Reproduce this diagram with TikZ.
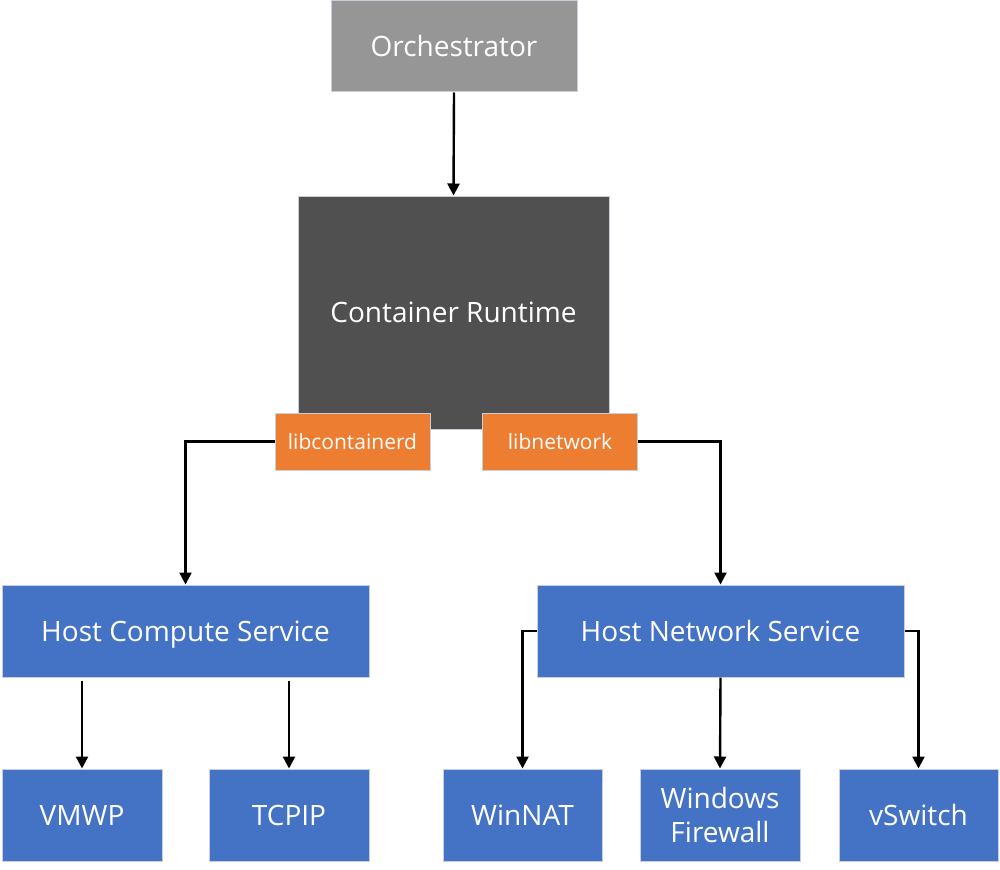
\documentclass[tikz,border=0pt]{standalone}
\usepackage{fontspec}
\setmainfont{Open Sans}
\usetikzlibrary{arrows.meta,calc}
\definecolor{cblue}{HTML}{4472C4}
\definecolor{corange}{HTML}{ED7D31}
\definecolor{cgray}{HTML}{969696}
\definecolor{cdark}{HTML}{505050}
\definecolor{cedge}{HTML}{C8CEDA}
\tikzset{
  box/.style={draw=cedge, line width=1pt, inner sep=0pt, align=center, text=white, font=\fontsize{28}{34}\selectfont, text height=20pt, text depth=0pt},
  bluebox/.style={box, fill=cblue},
  libbox/.style={box, fill=corange, font=\fontsize{21}{25}\selectfont, text height=15pt, minimum width=155pt, minimum height=57pt},
  conn/.style={line width=2.4pt, -{Triangle[length=12pt,width=12pt]}},
}
\begin{document}
\begin{tikzpicture}[x=1pt,y=-1pt]
\useasboundingbox (0,0) rectangle (1000,869);
\node[box, fill=cgray, minimum width=246pt, minimum height=91pt] (orch) at (454,46.5) {Orchestrator};
\node[box, fill=cdark, minimum width=311pt, minimum height=233pt] (cr) at (453.5,312.5) {Container Runtime};
\node[libbox] (lcd) at (352.5,441.5) {libcontainerd};
\node[libbox] (lnw) at (560,441.5) {libnetwork};
\node[bluebox, minimum width=367pt, minimum height=92pt] (hcs) at (185.5,631) {Host Compute Service};
\node[bluebox, minimum width=367pt, minimum height=92pt] (hns) at (720.5,631) {Host Network Service};
\node[bluebox, minimum width=160pt, minimum height=92pt] (vmwp) at (82,815) {VMWP};
\node[bluebox, minimum width=160pt, minimum height=92pt] (tcpip) at (289,815) {TCPIP};
\node[bluebox, minimum width=159pt, minimum height=92pt] (winnat) at (522.5,815) {WinNAT};
\node[bluebox, minimum width=160pt, minimum height=92pt, text height=, text depth=, font=\fontsize{28}{34}\selectfont] (fw) at (720,815) {Windows\\Firewall};
\node[bluebox, minimum width=159pt, minimum height=92pt] (vsw) at (918.5,815) {vSwitch};
\draw[conn] (orch.south) -- (cr.north);
\draw[conn] (lcd.west) -| (hcs.north);
\draw[conn] (lnw.east) -| (hns.north);
\coordinate (s1) at ($(vmwp.north |- hcs.south)+(0,3)$);
\coordinate (s2) at ($(tcpip.north |- hcs.south)+(0,3)$);
\draw[conn] (s1) -- (vmwp.north);
\draw[conn] (s2) -- (tcpip.north);
\draw[conn] (hns.west) -| (winnat.north);
\draw[conn] (hns.south) -- (fw.north);
\draw[conn] (hns.east) -| (vsw.north);
\end{tikzpicture}
\end{document}
